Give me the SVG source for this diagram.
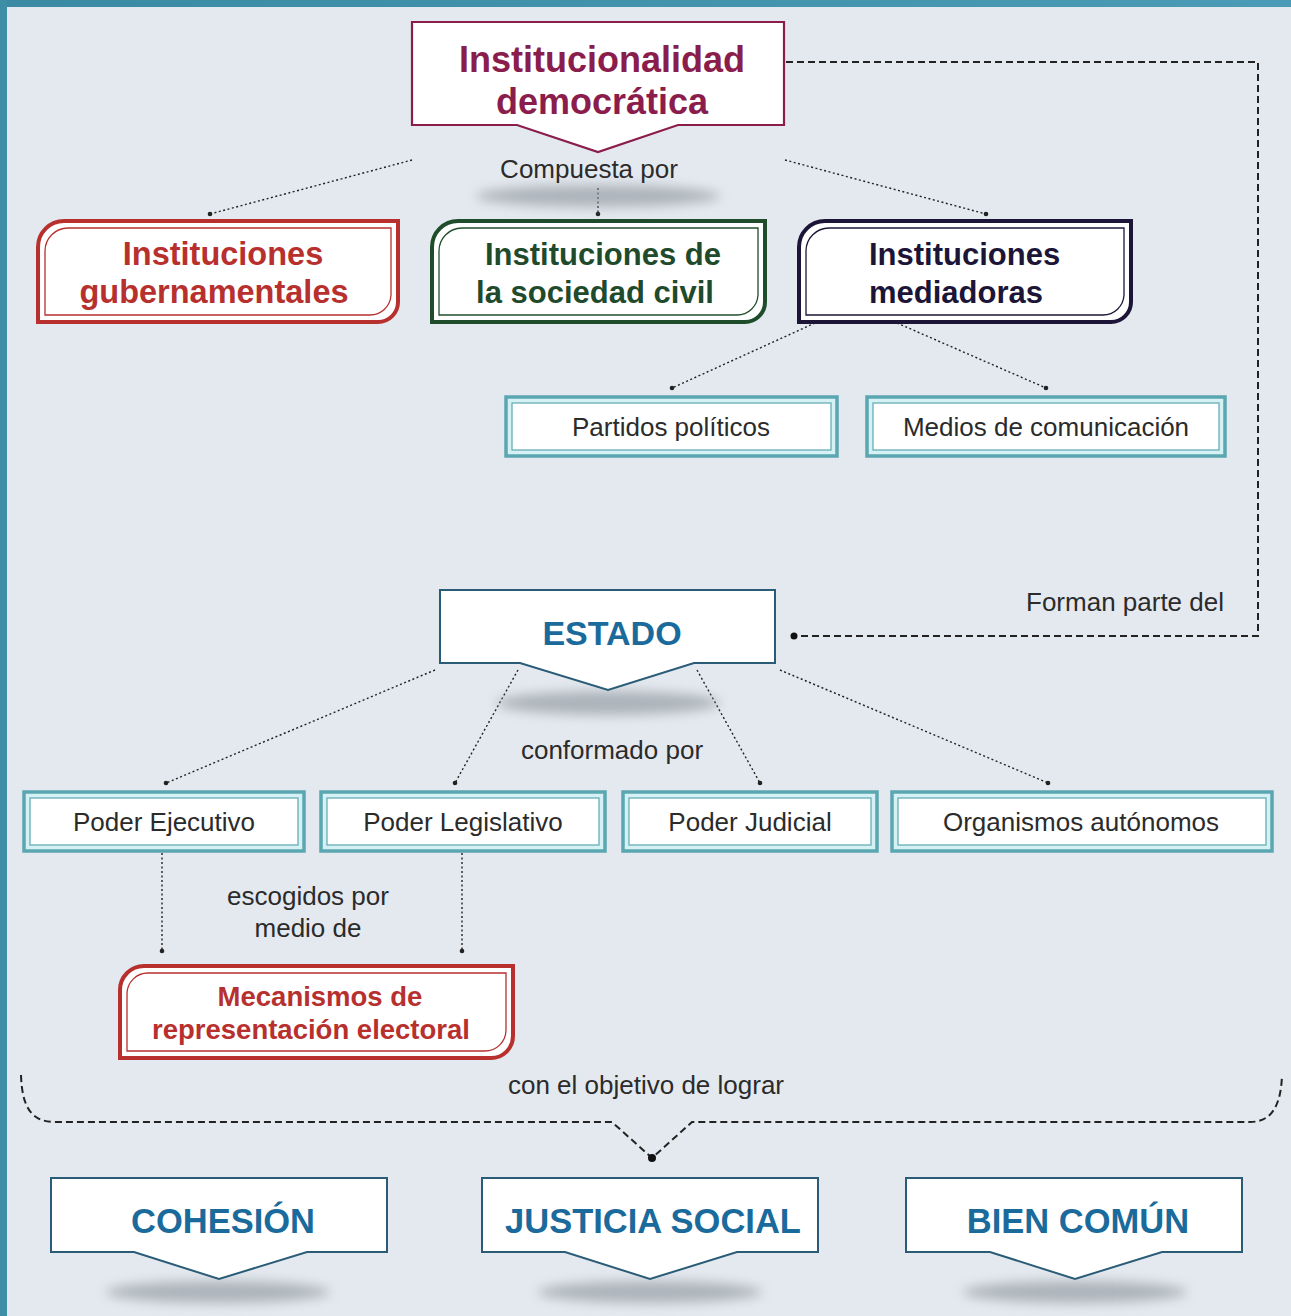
<svg xmlns="http://www.w3.org/2000/svg" width="1291" height="1316" viewBox="0 0 1291 1316">
<defs>
<style>
.t{font-family:"Liberation Sans",Arial,sans-serif;}
.lbl{font-family:"Liberation Sans",Arial,sans-serif;font-size:26px;fill:#2b2b2b;text-anchor:middle;}
.big{font-family:"Liberation Sans",Arial,sans-serif;font-weight:bold;text-anchor:middle;}
.dot{stroke:#222;stroke-width:1.4;stroke-dasharray:2 2.5;fill:none;}
.dash{stroke:#222;stroke-width:2;stroke-dasharray:7 4;fill:none;}
.tealo{fill:#d6f1f3;stroke:#5aa7b2;stroke-width:3.5;}
.teali{fill:#fff;stroke:#5aa7b2;stroke-width:1.2;}
.ptr{fill:#fff;stroke:#2a5c77;stroke-width:2;}
.shadow{fill:#8f979f;opacity:0.65;filter:url(#blur);}
</style>
<filter id="blur" x="-30%" y="-100%" width="160%" height="300%"><feGaussianBlur stdDeviation="6"/></filter>
<linearGradient id="band" x1="0" y1="0" x2="1" y2="0"><stop offset="0" stop-color="#3a8aa3"/><stop offset="1" stop-color="#4a9bb5"/></linearGradient>
</defs>
<rect x="0" y="0" width="1291" height="1316" fill="#e4e9ef"/>
<rect x="0" y="0" width="1291" height="7" fill="url(#band)"/>
<rect x="0" y="0" width="7" height="1316" fill="#3f8ea7"/>

<g id="connectors">
<line class="dot" x1="412" y1="160" x2="210" y2="214"/>
<line class="dot" x1="598" y1="188" x2="598" y2="214"/>
<line class="dot" x1="785" y1="160" x2="986" y2="214"/>
<circle cx="210" cy="214" r="2.3" fill="#222"/>
<circle cx="598" cy="214" r="2.3" fill="#222"/>
<circle cx="986" cy="214" r="2.3" fill="#222"/>
<line class="dot" x1="815" y1="323" x2="672" y2="388"/>
<line class="dot" x1="897" y1="323" x2="1046" y2="388"/>
<circle cx="672" cy="388" r="2.3" fill="#222"/>
<circle cx="1046" cy="388" r="2.3" fill="#222"/>
<path class="dash" d="M786,62 H1258 V636 H797"/>
<circle cx="794" cy="636" r="3.5" fill="#111"/>
<line class="dot" x1="435" y1="670" x2="166" y2="783"/>
<line class="dot" x1="518" y1="670" x2="455" y2="783"/>
<line class="dot" x1="697" y1="670" x2="760" y2="783"/>
<line class="dot" x1="780" y1="670" x2="1048" y2="783"/>
<circle cx="166" cy="783" r="2.3" fill="#222"/>
<circle cx="455" cy="783" r="2.3" fill="#222"/>
<circle cx="760" cy="783" r="2.3" fill="#222"/>
<circle cx="1048" cy="783" r="2.3" fill="#222"/>
<line class="dot" x1="162" y1="853" x2="162" y2="951"/>
<line class="dot" x1="462" y1="853" x2="462" y2="951"/>
<circle cx="162" cy="951" r="2.3" fill="#222"/>
<circle cx="462" cy="951" r="2.3" fill="#222"/>
<path class="dash" d="M21,1075 C22,1105 30,1122 55,1122 H612 L652,1158 L692,1122 H1250 C1272,1122 1281,1105 1282,1075"/>
<circle cx="652" cy="1158" r="4" fill="#111"/>
</g>

<g id="n-institucionalidad">
<path d="M412,22 H784 V125 H678 L598,152 L517,125 H412 Z" fill="#fff" stroke="#8a1d4c" stroke-width="2.2"/>
<text class="big" x="602" y="72" font-size="36" fill="#8a1d4c">Institucionalidad</text>
<text class="big" x="602" y="114" font-size="36" fill="#8a1d4c">democrática</text>
<ellipse class="shadow" cx="598" cy="196" rx="122" ry="11"/>
<text class="lbl" x="589" y="178">Compuesta por</text>
</g>

<g id="n-gubernamentales">
<path d="M64,221 H398 V302 A20,20 0 0 1 378,322 H38 V247 A26,26 0 0 1 64,221 Z" fill="#fff" stroke="#b8302e" stroke-width="4"/>
<path d="M68,228 H391 V295 A21,21 0 0 1 370,315 H45 V251 A23,23 0 0 1 68,228 Z" fill="none" stroke="#b8302e" stroke-width="1.3"/>
<text class="big" x="223" y="265" font-size="32.5" fill="#b8302e">Instituciones</text>
<text class="big" x="214" y="303" font-size="32.5" fill="#b8302e">gubernamentales</text>
</g>

<g id="n-sociedad">
<path d="M458,221 H765 V302 A20,20 0 0 1 745,322 H432 V247 A26,26 0 0 1 458,221 Z" fill="#fff" stroke="#1f4d2c" stroke-width="4"/>
<path d="M462,228 H758 V295 A21,21 0 0 1 737,315 H439 V251 A23,23 0 0 1 462,228 Z" fill="none" stroke="#1f4d2c" stroke-width="1.3"/>
<text class="big" x="603" y="265" font-size="31" fill="#1f4a2b">Instituciones de</text>
<text class="big" x="595" y="303" font-size="31" fill="#1f4a2b">la sociedad civil</text>
</g>

<g id="n-mediadoras">
<path d="M825,221 H1131 V302 A20,20 0 0 1 1111,322 H799 V247 A26,26 0 0 1 825,221 Z" fill="#fff" stroke="#1c1538" stroke-width="4"/>
<path d="M829,228 H1124 V295 A21,21 0 0 1 1103,315 H806 V251 A23,23 0 0 1 829,228 Z" fill="none" stroke="#1c1538" stroke-width="1.3"/>
<text class="t" x="869" y="265" font-size="31" font-weight="bold" fill="#1c1538">Instituciones</text>
<text class="t" x="869" y="303" font-size="31" font-weight="bold" fill="#1c1538">mediadoras</text>
</g>

<g id="n-partidos">
<rect class="tealo" x="506" y="397" width="331" height="59"/>
<rect class="teali" x="512" y="403" width="319" height="47"/>
<text class="lbl" x="671" y="436">Partidos políticos</text>
</g>

<g id="n-medios">
<rect class="tealo" x="867" y="397" width="358" height="59"/>
<rect class="teali" x="873" y="403" width="346" height="47"/>
<text class="lbl" x="1046" y="436">Medios de comunicación</text>
</g>

<text class="lbl" x="1224" y="611" style="text-anchor:end">Forman parte del</text>

<g id="n-estado">
<ellipse class="shadow" cx="608" cy="703" rx="112" ry="12"/>
<path class="ptr" d="M440,590 H775 V663 H694 L608,690 L520,663 H440 Z"/>
<text class="big" x="612" y="645" font-size="34" fill="#1b6a9c">ESTADO</text>
</g>
<text class="lbl" x="612" y="759">conformado por</text>

<g id="n-ejecutivo">
<rect class="tealo" x="24" y="792" width="280" height="59"/>
<rect class="teali" x="30" y="798" width="268" height="47"/>
<text class="lbl" x="164" y="831">Poder Ejecutivo</text>
</g>
<g id="n-legislativo">
<rect class="tealo" x="321" y="792" width="284" height="59"/>
<rect class="teali" x="327" y="798" width="272" height="47"/>
<text class="lbl" x="463" y="831">Poder Legislativo</text>
</g>
<g id="n-judicial">
<rect class="tealo" x="623" y="792" width="254" height="59"/>
<rect class="teali" x="629" y="798" width="242" height="47"/>
<text class="lbl" x="750" y="831">Poder Judicial</text>
</g>
<g id="n-organismos">
<rect class="tealo" x="892" y="792" width="380" height="59"/>
<rect class="teali" x="898" y="798" width="368" height="47"/>
<text class="lbl" x="1081" y="831">Organismos autónomos</text>
</g>

<text class="lbl" x="308" y="905">escogidos por</text>
<text class="lbl" x="308" y="937">medio de</text>

<g id="n-mecanismos">
<path d="M144,966 H513 V1036 A22,22 0 0 1 491,1058 H120 V990 A24,24 0 0 1 144,966 Z" fill="#fff" stroke="#b8302e" stroke-width="4"/>
<path d="M148,973 H506 V1030 A21,21 0 0 1 485,1051 H127 V994 A21,21 0 0 1 148,973 Z" fill="none" stroke="#b8302e" stroke-width="1.3"/>
<text class="big" x="320" y="1006" font-size="27.5" fill="#b8302e">Mecanismos de</text>
<text class="big" x="311" y="1039" font-size="27.5" fill="#b8302e">representación electoral</text>
</g>

<text class="lbl" x="646" y="1094">con el objetivo de lograr</text>

<g id="n-cohesion">
<ellipse class="shadow" cx="218" cy="1292" rx="112" ry="11"/>
<path class="ptr" d="M51,1178 H387 V1252 H307 L219,1279 L134,1252 H51 Z"/>
<text class="big" x="223" y="1233" font-size="34.5" fill="#1b6a9c">COHESIÓN</text>
</g>
<g id="n-justicia">
<ellipse class="shadow" cx="650" cy="1292" rx="112" ry="11"/>
<path class="ptr" d="M482,1178 H818 V1252 H737 L650,1279 L565,1252 H482 Z"/>
<text class="big" x="653" y="1233" font-size="34.5" fill="#1b6a9c">JUSTICIA SOCIAL</text>
</g>
<g id="n-bien">
<ellipse class="shadow" cx="1075" cy="1292" rx="112" ry="11"/>
<path class="ptr" d="M906,1178 H1242 V1252 H1162 L1075,1279 L990,1252 H906 Z"/>
<text class="big" x="1078" y="1233" font-size="34.5" fill="#1b6a9c">BIEN COMÚN</text>
</g>
</svg>
